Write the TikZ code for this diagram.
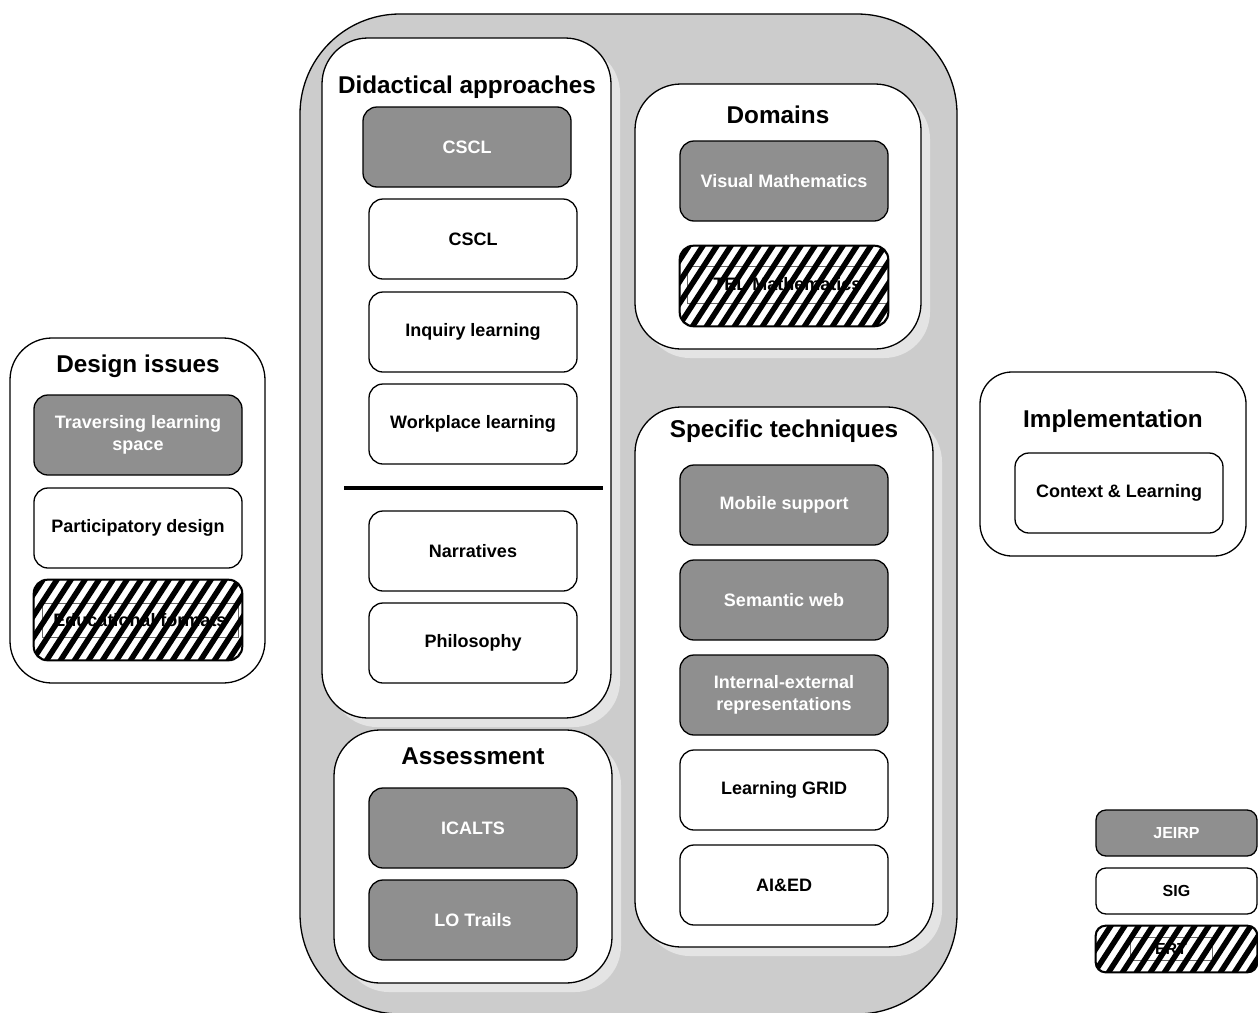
\documentclass[tikz,border=0pt]{standalone}
\usepackage{fontspec}
\setmainfont{Liberation Sans}
\usepackage{tikz}
\usetikzlibrary{shadows}
\definecolor{areaGray}{RGB}{204,204,204}
\definecolor{jeirpGray}{RGB}{143,143,143}
\definecolor{shadowGray}{RGB}{228,228,228}

\begin{document}
\begin{tikzpicture}[x=1pt,y=-1pt,
  panel/.style={draw=black,line width=1.3pt,fill=white,rounded corners=46pt,inner sep=0pt},
  shadowed/.style={drop shadow={shadow xshift=9pt,shadow yshift=-9pt,fill=shadowGray,opacity=1}},
  title/.style={font=\fontsize{24.3}{28}\selectfont\bfseries},
  box/.style={draw=black,line width=1.3pt,rounded corners=14pt,minimum width=208pt,minimum height=80pt,inner sep=0pt,align=center,font=\fontsize{18}{22}\selectfont\bfseries},
  jeirp/.style={box,fill=jeirpGray,text=white},
  sig/.style={box,fill=white},
  ert/.style={box,fill=white},
  ertlabel/.style={draw=black!60,line width=0.7pt,inner sep=0pt,font=\fontsize{18}{22}\selectfont\bfseries},
  key/.style={minimum width=161pt,minimum height=46pt,rounded corners=10pt,font=\fontsize{16}{18}\selectfont\bfseries}]
  \useasboundingbox (0,0) rectangle (1258,1012);
  \node[draw=black,line width=1.3pt,fill=areaGray,rounded corners=100pt,minimum width=657pt,minimum height=1000pt] (area) at (628.5,514) {};
  % panels
  \node[panel,shadowed,minimum width=289pt,minimum height=680pt] (didac) at (466.5,378) {};
  \node[panel,shadowed,minimum width=278pt,minimum height=253pt] (assess) at (473,856.5) {};
  \node[panel,shadowed,minimum width=286pt,minimum height=265pt] (domains) at (778,216.5) {};
  \node[panel,shadowed,minimum width=298pt,minimum height=540pt] (techs) at (784,677) {};
  \node[panel,rounded corners=42pt,minimum width=255pt,minimum height=345pt] (design) at (137.5,510.5) {};
  \node[panel,rounded corners=32pt,minimum width=266pt,minimum height=184pt] (implem) at (1113,464) {};
  \node[title] (didacT) at (467,87) {Didactical approaches};
  \node[title] (assessT) at (473,756) {Assessment};
  \node[title] (domainsT) at (778,115) {Domains};
  \node[title] (techsT) at (784,431) {Specific techniques};
  \node[title] (designT) at (138,366) {Design issues};
  \node[title] (implemT) at (1113,421) {Implementation};
  % didactical approaches
  \node[jeirp] (csclJ) at (467,147) {CSCL};
  \node[sig] (csclS) at (473,239) {CSCL};
  \node[sig] (inquiry) at (473,332) {Inquiry learning};
  \node[sig] (workplace) at (473,424) {Workplace learning};
  \coordinate (sepL) at (344,488);
  \coordinate (sepR) at (603,488);
  \draw[line width=4pt] (sepL) -- (sepR);
  \node[sig] (narratives) at (473,551) {Narratives};
  \node[sig] (philosophy) at (473,643) {Philosophy};
  % assessment
  \node[jeirp] (icalts) at (473,828) {ICALTS};
  \node[jeirp] (lotrails) at (473,920) {LO Trails};
  % domains
  \node[jeirp] (vismath) at (784,181) {Visual Mathematics};
  \node[ert] (telmath) at (784,286) {};
  \node[ertlabel,minimum width=201pt,minimum height=37pt] (telmathL) at (787.5,284.5) {TEL Mathematics};
  % specific techniques
  \node[jeirp] (mobile) at (784,505) {Mobile support};
  \node[jeirp] (semweb) at (784,600) {Semantic web};
  \node[jeirp] (intext) at (784,695) {Internal-external\\representations};
  \node[sig] (grid) at (784,790) {Learning GRID};
  \node[sig] (aied) at (784,885) {AI\&ED};
  % design issues
  \node[jeirp] (travers) at (138,435) {Traversing learning\\space};
  \node[sig] (particip) at (138,528) {Participatory design};
  \node[ert] (eduform) at (138,620) {};
  \node[ertlabel,minimum width=196pt,minimum height=34pt] (eduformL) at (140,620) {Educational formats};
  % implementation
  \node[sig] (context) at (1119,493) {Context \& Learning};
  % legend
  \node[jeirp,key] (jeirpK) at (1176.5,833) {JEIRP};
  \node[sig,key] (sigK) at (1176.5,891) {SIG};
  \node[ert,key] (ertK) at (1176.5,949) {};
  \node[ertlabel,minimum width=82pt,minimum height=23pt,font=\fontsize{16}{18}\selectfont\bfseries] (ertKL) at (1171,948.5) {ERT};
  % stripes over the ERT boxes
  \foreach \n/\r in {telmath/14,eduform/14,ertK/10}{
    \begin{scope}
      \clip[rounded corners=\r pt] (\n.south west) rectangle (\n.north east);
      \foreach \k in {-98,-84,...,224}
        \draw[line width=5.5pt] ([xshift=\k pt,yshift=-20pt]\n.south west) -- ++(78,-120);
    \end{scope}
    \draw[line width=1.3pt,rounded corners=\r pt] (\n.south west) rectangle (\n.north east);
  }
\end{tikzpicture}
\end{document}
